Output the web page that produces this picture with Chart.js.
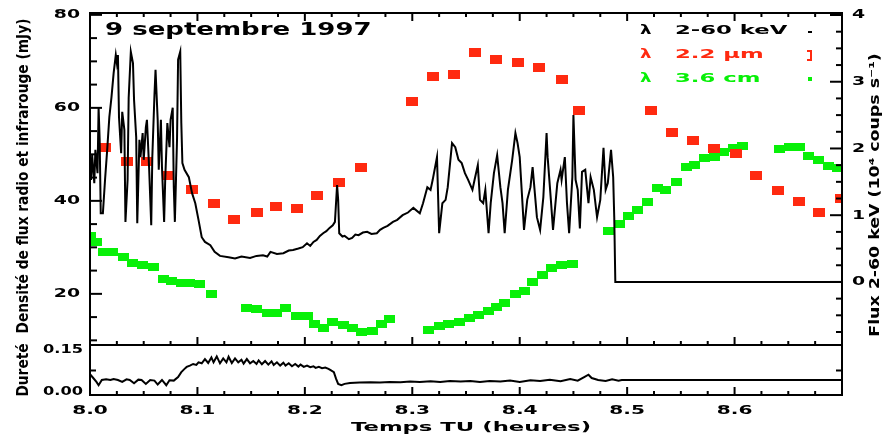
<!DOCTYPE html>
<html lang="fr">
<head>
<meta charset="utf-8">
<title>9 septembre 1997</title>
<script src="https://cdn.jsdelivr.net/npm/chart.js"></script>
<style>
  html, body { margin: 0; padding: 0; background: #fff; }
  #wrap { position: relative; width: 890px; height: 438px; }
  #wrap canvas { position: absolute; left: 0; top: 0; }
</style>
</head>
<body>
<div id="wrap">
  <canvas id="mainChart" width="890" height="438"></canvas>
  <canvas id="hardChart" width="890" height="438"></canvas>
</div>
<script>
// X-ray flux 2-60 keV (10^4 counts/s, right axis)
const xrayTime = [
    8.000, 8.001, 8.002, 8.004, 8.005, 8.007, 8.008, 8.009, 8.010, 8.012,
    8.014, 8.016, 8.018, 8.020, 8.022, 8.024, 8.025, 8.026, 8.027, 8.029,
    8.030, 8.032, 8.033, 8.035, 8.036, 8.038, 8.040, 8.041, 8.043, 8.044,
    8.046, 8.047, 8.049, 8.050, 8.052, 8.053, 8.055, 8.057, 8.058, 8.060,
    8.061, 8.063, 8.064, 8.066, 8.067, 8.069, 8.070, 8.072, 8.074, 8.075,
    8.077, 8.078, 8.079, 8.081, 8.082, 8.084, 8.085, 8.086, 8.088, 8.092,
    8.095, 8.098, 8.101, 8.104, 8.107, 8.112, 8.116, 8.121, 8.129, 8.135,
    8.141, 8.149, 8.155, 8.161, 8.165, 8.168, 8.174, 8.180, 8.185, 8.189,
    8.194, 8.198, 8.202, 8.205, 8.208, 8.211, 8.214, 8.217, 8.220, 8.223,
    8.226, 8.228, 8.230, 8.231, 8.232, 8.235, 8.237, 8.241, 8.244, 8.247,
    8.250, 8.254, 8.258, 8.262, 8.267, 8.270, 8.273, 8.277, 8.282, 8.286,
    8.291, 8.296, 8.301, 8.307, 8.310, 8.314, 8.317, 8.319, 8.323, 8.325,
    8.328, 8.331, 8.333, 8.337, 8.340, 8.343, 8.346, 8.349, 8.352, 8.356,
    8.358, 8.361, 8.363, 8.366, 8.368, 8.371, 8.373, 8.376, 8.379, 8.382,
    8.384, 8.386, 8.389, 8.393, 8.396, 8.398, 8.400, 8.402, 8.404, 8.407,
    8.410, 8.412, 8.416, 8.419, 8.422, 8.425, 8.426, 8.429, 8.431, 8.435,
    8.438, 8.439, 8.442, 8.444, 8.446, 8.449, 8.450, 8.452, 8.454, 8.456,
    8.458, 8.461, 8.464, 8.466, 8.469, 8.472, 8.475, 8.478, 8.480, 8.482,
    8.485, 8.487, 8.488, 8.489, 8.700
];
const xrayFlux = [
    1.83, 1.53, 1.90, 1.48, 1.98, 1.63, 2.61, 2.13, 1.03, 1.03,
    1.53, 1.98, 2.47, 2.77, 3.13, 3.40, 3.28, 3.40, 2.47, 1.93,
    2.55, 2.28, 0.90, 1.53, 2.76, 3.45, 3.28, 2.73, 2.17, 0.88,
    2.13, 1.87, 2.23, 1.83, 2.32, 2.43, 1.72, 0.85, 1.87, 2.80,
    3.18, 2.43, 1.68, 2.43, 1.72, 0.90, 1.53, 2.38, 2.02, 2.43,
    2.61, 1.42, 0.90, 2.13, 3.33, 3.45, 2.38, 1.78, 1.68, 1.57,
    1.33, 1.18, 0.93, 0.67, 0.60, 0.55, 0.45, 0.39, 0.37, 0.35,
    0.38, 0.36, 0.39, 0.40, 0.38, 0.45, 0.42, 0.43, 0.47, 0.48,
    0.50, 0.52, 0.58, 0.54, 0.60, 0.63, 0.69, 0.73, 0.76, 0.81,
    0.85, 0.90, 1.45, 1.23, 0.73, 0.68, 0.69, 0.64, 0.66, 0.71,
    0.70, 0.74, 0.75, 0.72, 0.73, 0.78, 0.81, 0.84, 0.90, 0.93,
    1.00, 1.04, 1.11, 1.03, 1.18, 1.42, 1.38, 1.53, 1.87, 0.73,
    1.18, 1.23, 1.42, 2.08, 2.02, 1.83, 1.78, 1.63, 1.53, 1.38,
    1.53, 1.75, 1.23, 1.18, 1.38, 0.73, 1.18, 1.63, 1.90, 1.42,
    1.18, 0.73, 1.38, 1.83, 2.23, 2.08, 1.87, 1.33, 0.78, 1.23,
    1.42, 1.72, 0.97, 0.78, 1.27, 2.23, 1.87, 1.23, 0.78, 1.48,
    1.68, 1.53, 1.87, 1.18, 0.73, 1.57, 2.50, 1.53, 1.38, 0.80,
    1.65, 1.68, 1.18, 1.57, 1.38, 0.97, 1.23, 2.01, 1.38, 1.48,
    1.98, 1.57, 0.97, 0.00, 0.00
];

// 2.2 micron (mJy)
const irTime = [
    8.014, 8.034, 8.053, 8.073, 8.095, 8.115, 8.134, 8.155, 8.173, 8.193,
    8.211, 8.232, 8.252, 8.300, 8.319, 8.339, 8.358, 8.378, 8.398, 8.418,
    8.439, 8.455, 8.522, 8.542, 8.561, 8.581, 8.601, 8.620, 8.640, 8.660,
    8.679, 8.699
];
const irFlux = [
    51.4, 48.4, 48.4, 45.4, 42.4, 39.4, 36.0, 37.4, 38.7, 38.3,
    41.1, 43.9, 47.1, 61.3, 66.7, 67.1, 72.0, 70.3, 69.7, 68.6,
    66.2, 59.4, 59.4, 54.6, 52.9, 51.2, 50.1, 45.4, 42.2, 39.8,
    37.6, 40.6
];

// 3.6 cm (mJy)
const radioTime = [
    8.000, 8.0065, 8.013, 8.021, 8.031, 8.040, 8.049, 8.059, 8.068, 8.076,
    8.085, 8.093, 8.102, 8.113, 8.146, 8.155, 8.165, 8.174, 8.182, 8.192,
    8.202, 8.209, 8.217, 8.226, 8.236, 8.244, 8.253, 8.263, 8.271, 8.279,
    8.315, 8.325, 8.334, 8.344, 8.353, 8.362, 8.371, 8.378, 8.386, 8.396,
    8.404, 8.412, 8.421, 8.430, 8.439, 8.449, 8.483, 8.493, 8.501, 8.510,
    8.519, 8.528, 8.536, 8.546, 8.555, 8.563, 8.572, 8.581, 8.590, 8.599,
    8.607, 8.642, 8.651, 8.660, 8.669, 8.678, 8.687, 8.696
];
const radioFlux = [
    32.5, 31.2, 29.0, 29.0, 28.0, 26.7, 26.2, 25.8, 23.2, 22.8,
    22.4, 22.4, 22.2, 20.0, 17.0, 16.8, 15.9, 15.9, 17.0, 15.3,
    15.3, 13.5, 12.7, 14.0, 13.3, 12.7, 11.8, 12.0, 13.5, 14.6,
    12.3, 13.1, 13.6, 14.0, 14.7, 15.4, 16.3, 17.2, 18.1, 20.0,
    20.6, 22.6, 24.1, 25.6, 26.2, 26.5, 33.5, 35.1, 36.8, 38.1,
    39.8, 42.8, 42.4, 44.1, 47.3, 47.7, 49.2, 49.4, 50.5, 51.4,
    51.8, 51.2, 51.6, 51.6, 49.7, 48.8, 47.5, 47.1
];

// hardness ratio (lower panel)
const hardTime = [
    8.000, 8.003, 8.006, 8.008, 8.011, 8.015, 8.019, 8.022, 8.026, 8.030,
    8.034, 8.037, 8.041, 8.045, 8.048, 8.052, 8.056, 8.060, 8.063, 8.067,
    8.071, 8.074, 8.078, 8.082, 8.085, 8.088, 8.090, 8.093, 8.096, 8.099,
    8.101, 8.104, 8.107, 8.110, 8.113, 8.115, 8.118, 8.121, 8.124, 8.127,
    8.129, 8.132, 8.135, 8.138, 8.141, 8.143, 8.146, 8.149, 8.152, 8.155,
    8.157, 8.160, 8.163, 8.166, 8.169, 8.171, 8.174, 8.177, 8.180, 8.182,
    8.185, 8.188, 8.191, 8.194, 8.196, 8.199, 8.202, 8.205, 8.208, 8.210,
    8.213, 8.216, 8.219, 8.222, 8.224, 8.227, 8.229, 8.231, 8.234, 8.237,
    8.242, 8.251, 8.261, 8.270, 8.279, 8.289, 8.298, 8.307, 8.317, 8.326,
    8.335, 8.345, 8.354, 8.363, 8.372, 8.382, 8.391, 8.400, 8.410, 8.419,
    8.428, 8.438, 8.447, 8.454, 8.460, 8.464, 8.467, 8.473, 8.480, 8.486,
    8.492, 8.495, 8.700
];
const hardRatio = [
    0.064, 0.052, 0.040, 0.030, 0.046, 0.048, 0.046, 0.049, 0.046, 0.040,
    0.048, 0.046, 0.036, 0.047, 0.046, 0.034, 0.046, 0.044, 0.032, 0.046,
    0.030, 0.045, 0.044, 0.055, 0.070, 0.080, 0.086, 0.090, 0.095, 0.092,
    0.100, 0.097, 0.110, 0.098, 0.115, 0.100, 0.118, 0.097, 0.112, 0.100,
    0.117, 0.098, 0.112, 0.100, 0.108, 0.096, 0.110, 0.097, 0.104, 0.095,
    0.106, 0.094, 0.104, 0.093, 0.103, 0.092, 0.100, 0.090, 0.099, 0.090,
    0.097, 0.088, 0.095, 0.087, 0.093, 0.086, 0.090, 0.085, 0.088, 0.083,
    0.086, 0.082, 0.084, 0.080, 0.076, 0.070, 0.050, 0.034, 0.030, 0.034,
    0.037, 0.038, 0.039, 0.038, 0.040, 0.039, 0.041, 0.040, 0.042, 0.040,
    0.043, 0.041, 0.043, 0.040, 0.043, 0.041, 0.044, 0.040, 0.045, 0.043,
    0.047, 0.042, 0.049, 0.044, 0.055, 0.062, 0.052, 0.046, 0.043, 0.048,
    0.044, 0.046, 0.046
];

// tick labels
const timeTicks = [8.0, 8.1, 8.2, 8.3, 8.4, 8.5, 8.6];
const timeLabels = ['8.0', '8.1', '8.2', '8.3', '8.4', '8.5', '8.6'];
const fluxTicks = [20, 40, 60, 80];
const countTicks = [0, 1, 2, 3, 4];
const hardTicks = [0, 0.15];
const hardLabels = ['0.00', '0.15'];

const RED = '#ff2a10';
const GREEN = '#08f008';
const FONT = '"DejaVu Sans", sans-serif';

function block(w, h, color) {
    const c = document.createElement('canvas');
    c.width = w;
    c.height = h;
    const g = c.getContext('2d');
    g.fillStyle = color;
    g.fillRect(0, 0, w, h);
    return c;
}

// wide bold text, stretched along its direction by sx
function drawText(ctx, text, x, y, size, sx, align, color, rot) {
    ctx.save();
    ctx.translate(x, y);
    if (rot) ctx.rotate(rot);
    ctx.scale(sx, 1);
    ctx.font = 'bold ' + size + 'px ' + FONT;
    ctx.fillStyle = color || '#000';
    ctx.textAlign = align || 'left';
    ctx.textBaseline = 'middle';
    ctx.fillText(text, 0, 0);
    ctx.restore();
}

function tick(ctx, x1, y1, x2, y2) {
    ctx.beginPath();
    ctx.moveTo(x1, y1);
    ctx.lineTo(x2, y2);
    ctx.stroke();
}

function timeTickMarks(ctx, scale, yEdge, dir) {
    for (let i = 0; i <= 28; i++) {
        const px = scale.getPixelForValue(8 + i * 0.025);
        tick(ctx, px, yEdge, px, yEdge + dir * (i % 4 === 0 ? 8 : 4));
    }
}

const mainDecor = {
    id: 'mainDecor',
    afterDraw(chart) {
        const { ctx, chartArea: a, scales: { x, y, y2 } } = chart;
        ctx.save();
        ctx.strokeStyle = '#000';
        ctx.lineWidth = 2;
        ctx.strokeRect(a.left, a.top, a.right - a.left, a.bottom - a.top);
        timeTickMarks(ctx, x, a.top, 1);
        timeTickMarks(ctx, x, a.bottom, -1);
        for (let v = 10; v <= 80; v += 5) {
            const py = y.getPixelForValue(v);
            tick(ctx, a.left, py, a.left + (v % 20 === 0 ? 12 : 7), py);
        }
        for (let v = -0.75; v <= 4; v += 0.25) {
            const py = y2.getPixelForValue(v);
            tick(ctx, a.right, py, a.right - (Number.isInteger(v) ? 12 : 6), py);
        }

        fluxTicks.forEach(v => drawText(ctx, String(v), a.left - 10, y.getPixelForValue(v), 13, 1.45, 'right'));
        countTicks.forEach(v => drawText(ctx, String(v), a.right + 10, y2.getPixelForValue(v), 13, 1.45, 'left'));

        drawText(ctx, 'Densité de flux radio et infrarouge (mJy)', 24, 176, 16, 0.86, 'center', '#000', -Math.PI / 2);
        drawText(ctx, 'Flux 2-60 keV (10⁴ coups s⁻¹)', 875, 195, 14, 1.24, 'center', '#000', -Math.PI / 2);
        drawText(ctx, '9 septembre 1997', 105, 31, 17, 1.53, 'left');

        // legend
        const rows = [['2-60 keV', '#000', 31], ['2.2 µm', RED, 55], ['3.6 cm', GREEN, 79]];
        rows.forEach(([label, color, ly]) => {
            drawText(ctx, 'λ', 640, ly, 13, 1.4, 'left', color);
            drawText(ctx, label, 675, ly, 13, 1.75, 'left', color);
        });
        ctx.fillStyle = '#000';
        ctx.fillRect(808, 31, 4, 2);
        ctx.fillStyle = RED;
        ctx.fillRect(810, 50, 2, 11);
        ctx.fillRect(807, 50, 4, 2);
        ctx.fillRect(807, 59, 4, 2);
        ctx.fillStyle = GREEN;
        ctx.fillRect(808, 77, 4, 4);
        ctx.restore();
    }
};

const hardDecor = {
    id: 'hardDecor',
    afterDraw(chart) {
        const { ctx, chartArea: a, scales: { x, y } } = chart;
        ctx.save();
        ctx.strokeStyle = '#000';
        ctx.lineWidth = 2;
        ctx.strokeRect(a.left, a.top, a.right - a.left, a.bottom - a.top);
        timeTickMarks(ctx, x, a.bottom, -1);
        const mid = y.getPixelForValue(0.075);
        tick(ctx, a.left, mid, a.left + 6, mid);
        tick(ctx, a.right, mid, a.right - 6, mid);

        drawText(ctx, hardLabels[1], 83, y.getPixelForValue(hardTicks[1]) + 4, 12, 1.35, 'right');
        drawText(ctx, hardLabels[0], 83, y.getPixelForValue(hardTicks[0]) - 3, 12, 1.35, 'right');
        timeTicks.forEach((v, i) => drawText(ctx, timeLabels[i], x.getPixelForValue(v), 411, 13, 1.55, 'center'));
        drawText(ctx, 'Temps TU (heures)', 471, 428, 13, 1.75, 'center');
        drawText(ctx, 'Dureté', 24, 370, 16, 0.86, 'center', '#000', -Math.PI / 2);
        ctx.restore();
    }
};

const baseOptions = {
    responsive: false,
    animation: false,
    events: [],
    plugins: { legend: { display: false }, tooltip: { enabled: false } }
};

new Chart(document.getElementById('mainChart'), {
    type: 'line',
    data: {
        datasets: [{
            label: '2-60 keV',
            data: xrayTime.map((t, i) => ({ x: t, y: xrayFlux[i] })),
            yAxisID: 'y2',
            borderColor: '#000',
            borderWidth: 2,
            pointRadius: 0,
            fill: false,
            order: 0
        }, {
            label: '2.2 µm',
            data: irTime.map((t, i) => ({ x: t, y: irFlux[i] })),
            yAxisID: 'y',
            showLine: false,
            pointStyle: block(12, 9, RED),
            pointRadius: 6,
            order: 1
        }, {
            label: '3.6 cm',
            data: radioTime.map((t, i) => ({ x: t, y: radioFlux[i] })),
            yAxisID: 'y',
            showLine: false,
            pointStyle: block(11, 8, GREEN),
            pointRadius: 6,
            order: 2
        }]
    },
    options: {
        ...baseOptions,
        layout: { padding: { left: 90, right: 48, top: 13, bottom: 93 } },
        scales: {
            x: { type: 'linear', min: 8, max: 8.7, display: false },
            y: { min: 9, max: 80.4, display: false },
            y2: { position: 'right', min: -0.945, max: 4.03, display: false }
        }
    },
    plugins: [mainDecor]
});

new Chart(document.getElementById('hardChart'), {
    type: 'line',
    data: {
        datasets: [{
            label: 'Dureté',
            data: hardTime.map((t, i) => ({ x: t, y: hardRatio[i] })),
            borderColor: '#000',
            borderWidth: 2,
            pointRadius: 0,
            fill: false
        }]
    },
    options: {
        ...baseOptions,
        layout: { padding: { left: 90, right: 48, top: 345, bottom: 43 } },
        scales: {
            x: { type: 'linear', min: 8, max: 8.7, display: false },
            y: { min: 0, max: 0.153, display: false }
        }
    },
    plugins: [hardDecor]
});
</script>
</body>
</html>
